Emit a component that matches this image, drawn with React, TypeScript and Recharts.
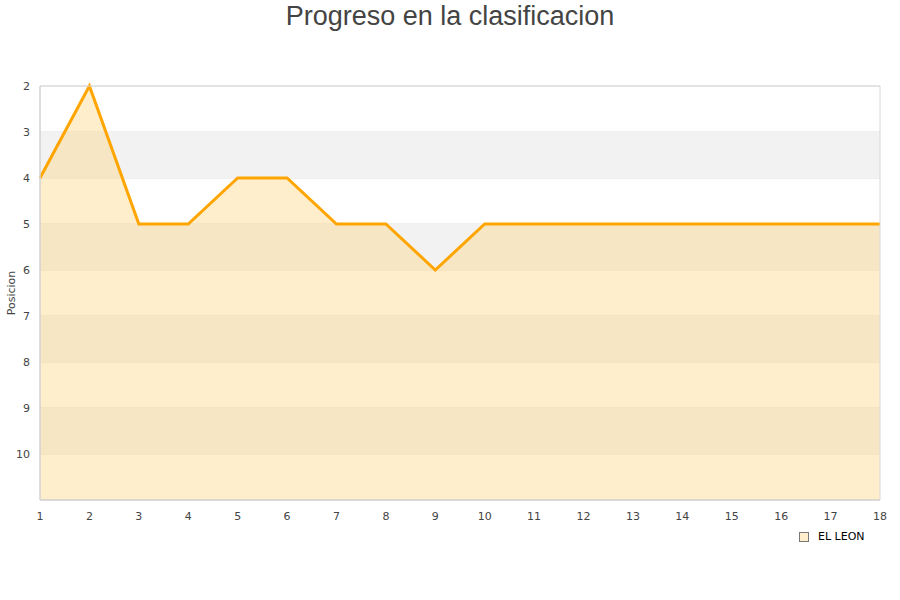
import {
  ComposedChart,
  Area,
  XAxis,
  YAxis,
  CartesianGrid,
  ReferenceArea,
  Legend,
} from "recharts";

const jornadas = [1, 2, 3, 4, 5, 6, 7, 8, 9, 10, 11, 12, 13, 14, 15, 16, 17, 18];
const posiciones = [4, 2, 5, 5, 4, 4, 5, 5, 6, 5, 5, 5, 5, 5, 5, 5, 5, 5];
const yTicks = [2, 3, 4, 5, 6, 7, 8, 9, 10];
const bandas = [
  [3, 4],
  [5, 6],
  [7, 8],
  [9, 10],
];
const equipo = "EL LEON";

const data = jornadas.map((j, i) => ({ jornada: j, posicion: posiciones[i] }));

const tickStyle = { fontSize: 11, fill: "#444", fontFamily: "DejaVu Sans" };

const LegendContent = () => (
  <div
    style={{
      display: "flex",
      alignItems: "center",
      fontFamily: "DejaVu Sans",
      fontSize: 11,
      color: "#000",
    }}
  >
    <span
      style={{
        display: "inline-block",
        width: 8,
        height: 8,
        background: "#ffeecc",
        border: "1px solid #777",
        marginRight: 9,
      }}
    />
    {equipo}
  </div>
);

export default function App() {
  return (
    <div style={{ position: "absolute", left: 0, top: 0, width: 900, height: 600, background: "#fff" }}>
      <svg width={900} height={40} style={{ position: "absolute", left: 0, top: 0 }}>
        <text
          x={450}
          y={25}
          textAnchor="middle"
          fontSize={27}
          fill="#444"
          fontFamily="Liberation Sans, Arial"
        >
          Progreso en la clasificacion
        </text>
      </svg>
      <ComposedChart
        width={900}
        height={600}
        data={data}
        margin={{ top: 86, right: 20, bottom: 57, left: 0 }}
      >
        {bandas.map(([a, b]) => (
          <ReferenceArea key={a} y1={a} y2={b} fill="#f2f2f2" fillOpacity={1} stroke="none" />
        ))}
        <CartesianGrid vertical={false} stroke="#dedede" />
        <XAxis
          dataKey="jornada"
          type="number"
          domain={[1, 18]}
          ticks={jornadas}
          interval={0}
          tick={tickStyle}
          tickLine={false}
          axisLine={{ stroke: "#d0d0d0" }}
          height={30}
          tickMargin={6}
        />
        <YAxis
          type="number"
          reversed
          domain={[2, 11]}
          ticks={yTicks}
          interval={0}
          tick={tickStyle}
          tickLine={false}
          axisLine={{ stroke: "#d0d0d0" }}
          width={40}
          tickMargin={4}
          label={{
            value: "Posicion",
            angle: -90,
            position: "insideLeft",
            dx: 6,
            style: { fontSize: 11, fill: "#444", fontFamily: "DejaVu Sans", textAnchor: "middle" },
          }}
        />
        <Area
          type="linear"
          dataKey="posicion"
          name={equipo}
          baseValue="dataMax"
          stroke="#ffa500"
          strokeWidth={3}
          fill="#ffd480"
          fillOpacity={0.4}
          dot={false}
          activeDot={false}
          isAnimationActive={false}
        />
        <ReferenceArea x1={1} x2={18} y1={2} y2={11} fill="none" stroke="#d8d8d8" />
        <Legend
          content={<LegendContent />}
          wrapperStyle={{ position: "absolute", left: 799, top: 530, width: "auto" }}
        />
      </ComposedChart>
    </div>
  );
}
